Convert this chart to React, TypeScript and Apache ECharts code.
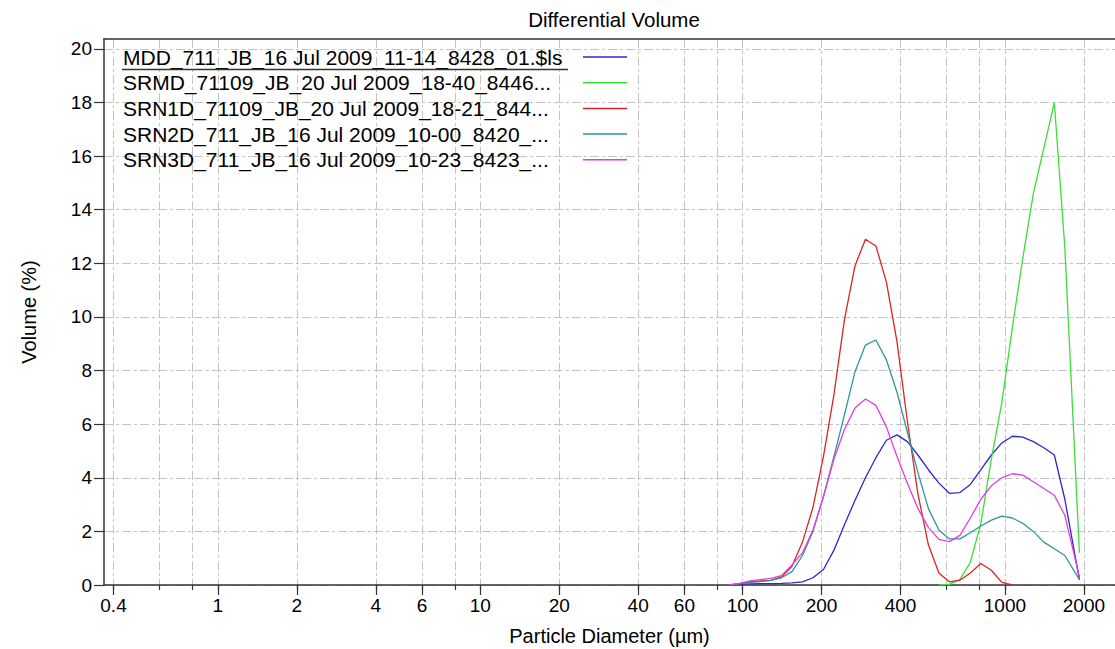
import React, { useEffect, useRef } from "react";
import * as echarts from "echarts";

// Particle diameters (µm) at which the curves are read
const sizes = [88.8, 97.3, 106.7, 117.0, 128.3, 140.7, 154.3, 169.2, 185.5, 203.4, 223.0, 244.5, 268.1, 294.0, 322.3, 353.4, 387.5, 424.9, 465.9, 510.9, 560.2, 614.2, 673.5, 738.5, 809.7, 887.8, 973.4, 1067.4, 1170.4, 1283.3, 1407.1, 1542.9, 1691.8, 1923];

const seriesNames = [
  "MDD_711_JB_16 Jul 2009_11-14_8428_01.$ls",
  "SRMD_71109_JB_20 Jul 2009_18-40_8446...",
  "SRN1D_71109_JB_20 Jul 2009_18-21_844...",
  "SRN2D_711_JB_16 Jul 2009_10-00_8420_...",
  "SRN3D_711_JB_16 Jul 2009_10-23_8423_...",
];
const seriesColors = ["#2a2ac8", "#3ade3a", "#dd2424", "#2f9696", "#e03ee0"];

const mdd = [0.0, 0.02, 0.04, 0.05, 0.05, 0.06, 0.08, 0.12, 0.27, 0.58, 1.3, 2.25, 3.15, 4.0, 4.75, 5.4, 5.6, 5.35, 4.85, 4.3, 3.8, 3.42, 3.45, 3.75, 4.3, 4.85, 5.3, 5.55, 5.52, 5.35, 5.12, 4.85, 3.2, 0.2];
const srmd = [null, null, null, null, null, null, null, null, null, null, null, null, null, null, null, null, null, null, null, null, 0.0, 0.02, 0.2, 0.85, 2.3, 4.7, 6.8, 9.6, 12.2, 14.6, 16.3, 18.0, 12.6, 1.2];
const srn1d = [0.0, 0.05, 0.12, 0.15, 0.17, 0.3, 0.7, 1.6, 2.9, 4.8, 7.1, 9.9, 11.9, 12.9, 12.65, 11.3, 9.1, 6.1, 3.4, 1.5, 0.45, 0.12, 0.18, 0.45, 0.8, 0.55, 0.1, 0.0, null, null, null, null, null, null];
const srn2d = [0.0, 0.04, 0.1, 0.13, 0.17, 0.27, 0.5, 1.1, 2.0, 3.3, 4.8, 6.35, 7.95, 8.95, 9.14, 8.4, 7.2, 5.7, 4.2, 2.85, 2.05, 1.72, 1.72, 1.95, 2.2, 2.42, 2.57, 2.5, 2.3, 2.0, 1.6, 1.35, 1.1, 0.2];
const srn3d = [0.0, 0.06, 0.15, 0.2, 0.25, 0.35, 0.75, 1.2, 2.05, 3.3, 4.7, 5.8, 6.6, 6.94, 6.7, 5.9, 4.8, 3.8, 2.85, 2.15, 1.7, 1.62, 1.85, 2.5, 3.2, 3.7, 4.0, 4.15, 4.1, 3.85, 3.6, 3.35, 2.6, 0.3];

const xLabelValues = [0.4, 1, 2, 4, 6, 10, 20, 40, 60, 100, 200, 400, 1000, 2000];
const xGridValues = [0.4, 0.6, 0.8, 1, 2, 4, 6, 8, 10, 20, 40, 60, 80, 100, 200, 400, 600, 800, 1000, 2000];
const yTickValues = [0, 2, 4, 6, 8, 10, 12, 14, 16, 18, 20];

const X_MIN = 0.368;
const X_MAX = 2628;
const Y_MAX = 20.37;

const FONT = "'Liberation Sans', Arial, sans-serif";
const AXIS_COLOR = "#333333";
const GRID_LINE = { color: "#c4c4c4", type: [9, 3, 3, 3] as number[], width: 1 };

export default function App() {
  const ref = useRef<HTMLDivElement>(null);

  useEffect(() => {
    if (!ref.current) return;
    const chart = echarts.init(ref.current, undefined, { renderer: "svg" });
    const allValues = [mdd, srmd, srn1d, srn2d, srn3d];
    const fmt = (v: number) => String(parseFloat(Number(v).toPrecision(6)));

    const option: any = {
      animation: false,
      backgroundColor: "#ffffff",
      title: {
        text: "Differential Volume",
        left: 609,
        top: 4,
        textAlign: "center",
        textStyle: { fontFamily: FONT, fontSize: 20.5, fontWeight: "normal", color: "#000" },
      },
      grid: { left: 104, right: 0, top: 39, bottom: 64, containLabel: false, outerBoundsMode: "none" },
      legend: {
        orient: "vertical",
        left: 123,
        top: 46,
        align: "right",
        padding: 0,
        itemGap: 3.7,
        icon: "rect",
        itemWidth: 44,
        itemHeight: 1.5,
        selectedMode: false,
        data: seriesNames,
        formatter: (name: string) => "{a|" + name + "}",
        textStyle: {
          fontFamily: FONT,
          fontSize: 21,
          color: "#000",
          lineHeight: 22,
          rich: { a: { width: 455, align: "left", fontFamily: FONT, fontSize: 21, color: "#000", lineHeight: 22 } },
        },
      },
      xAxis: [
        {
          type: "log",
          logBase: 10,
          min: X_MIN,
          max: X_MAX,
          position: "bottom",
          name: "Particle Diameter (µm)",
          nameLocation: "middle",
          nameGap: 41,
          nameTextStyle: { fontFamily: FONT, fontSize: 20, color: "#000" },
          axisLine: { show: true, lineStyle: { color: AXIS_COLOR, width: 1.5 } },
          axisTick: { show: true, length: 5, customValues: xGridValues, lineStyle: { color: AXIS_COLOR, width: 1.2 } },
          axisLabel: {
            show: true,
            customValues: xLabelValues,
            margin: 11,
            fontFamily: FONT,
            fontSize: 19,
            color: "#000",
            formatter: fmt,
          },
          splitLine: { show: true, lineStyle: GRID_LINE },
          minorTick: { show: false },
          minorSplitLine: { show: false },
        },
        {
          type: "log",
          logBase: 10,
          min: X_MIN,
          max: X_MAX,
          position: "bottom",
          axisLine: { show: false },
          axisTick: { show: true, length: 10, customValues: xLabelValues, lineStyle: { color: AXIS_COLOR, width: 1.2 } },
          axisLabel: { show: false },
          splitLine: { show: false },
        },
        {
          type: "log",
          logBase: 10,
          min: X_MIN,
          max: X_MAX,
          position: "top",
          axisLine: { show: true, lineStyle: { color: AXIS_COLOR, width: 1.5 } },
          axisTick: { show: false },
          axisLabel: { show: false },
          splitLine: { show: false },
        },
      ],
      yAxis: {
        type: "value",
        min: 0,
        max: Y_MAX,
        name: "Volume (%)",
        nameLocation: "middle",
        nameGap: 65,
        nameRotate: 90,
        nameTextStyle: { fontFamily: FONT, fontSize: 20, color: "#000" },
        axisLine: { show: true, lineStyle: { color: AXIS_COLOR, width: 1.5 } },
        axisTick: { show: true, length: 10, customValues: yTickValues, lineStyle: { color: AXIS_COLOR, width: 1.2 } },
        axisLabel: { customValues: yTickValues, margin: 12, fontFamily: FONT, fontSize: 19, color: "#000" },
        splitLine: { show: true, lineStyle: GRID_LINE },
      },
      graphic: [
        {
          type: "line",
          shape: { x1: 122, y1: 69.5, x2: 568, y2: 69.5 },
          style: { stroke: AXIS_COLOR, lineWidth: 1.5 },
          z: 100,
        },
      ],
      series: seriesNames.map((name, i) => ({
        name,
        type: "line",
        xAxisIndex: 0,
        yAxisIndex: 0,
        showSymbol: false,
        symbol: "none",
        smooth: false,
        connectNulls: false,
        color: seriesColors[i],
        lineStyle: { color: seriesColors[i], width: 1.3 },
        data: sizes.map((s, k) => [s, allValues[i][k]]),
      })),
    };
    chart.setOption(option);
    return () => chart.dispose();
  }, []);

  return (
    <div
      ref={ref}
      style={{ position: "absolute", left: 0, top: 0, width: 1115, height: 649, background: "#fff" }}
    />
  );
}
